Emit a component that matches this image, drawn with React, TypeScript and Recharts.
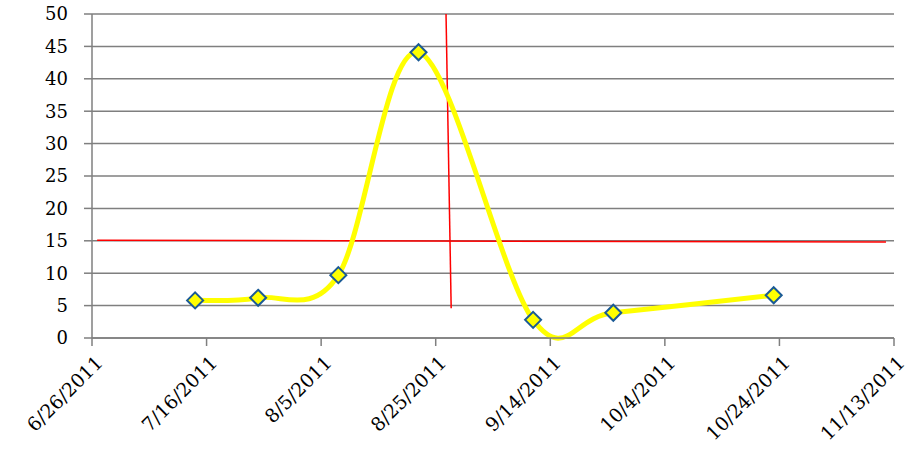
import React from 'react'
import { LineChart, Line, XAxis, YAxis, CartesianGrid, ReferenceLine } from 'recharts'

const dates = ['7/14/2011', '7/25/2011', '8/8/2011', '8/22/2011', '9/11/2011', '9/25/2011', '10/23/2011']
const values = [5.8, 6.2, 9.7, 44.1, 2.8, 3.9, 6.6]
const tickLabels = ['6/26/2011', '7/16/2011', '8/5/2011', '8/25/2011', '9/14/2011', '10/4/2011', '10/24/2011', '11/13/2011']
const yTicks = [0, 5, 10, 15, 20, 25, 30, 35, 40, 45, 50]

// red marker lines, x in days after the first tick
const hLine = [{ d: 0.9, y: 15.1 }, { d: 138.6, y: 14.8 }]
const vLine = [{ d: 61.8, y: 50 }, { d: 62.7, y: 4.6 }]

const dayNum = (s: string) => {
  const [m, d, y] = s.split('/').map(Number)
  return Date.UTC(y, m - 1, d) / 86400000
}

const start = dayNum(tickLabels[0])
const ticks = tickLabels.map(dayNum)
const data = dates.map((d, i) => ({ x: dayNum(d), value: values[i] }))
const labelFor: Record<number, string> = {}
tickLabels.forEach((l, i) => (labelFor[ticks[i]] = l))

// excel-like smoothing (catmull-rom)
const smooth = (context: any) => {
  let pts: number[][] = []
  return {
    areaStart() {},
    areaEnd() {},
    lineStart() {
      pts = []
    },
    lineEnd() {
      if (!pts.length) return
      context.moveTo(pts[0][0], pts[0][1])
      for (let i = 0; i < pts.length - 1; i++) {
        const p0 = pts[i - 1] || pts[i]
        const p1 = pts[i]
        const p2 = pts[i + 1]
        const p3 = pts[i + 2] || p2
        context.bezierCurveTo(
          p1[0] + (p2[0] - p0[0]) / 6,
          p1[1] + (p2[1] - p0[1]) / 6,
          p2[0] - (p3[0] - p1[0]) / 6,
          p2[1] - (p3[1] - p1[1]) / 6,
          p2[0],
          p2[1]
        )
      }
    },
    point(x: number, y: number) {
      pts.push([+x, +y])
    },
  }
}

const Diamond = (props: any) => {
  const { cx, cy } = props
  if (cx == null || cy == null) return null
  const r = 8
  return (
    <polygon
      points={`${cx},${cy - r} ${cx + r},${cy} ${cx},${cy + r} ${cx - r},${cy}`}
      fill="#ffff00"
      stroke="#1a5a96"
      strokeWidth={2}
    />
  )
}

const XTick = (props: any) => {
  const { x, y, payload } = props
  const ax = x + 7
  const ay = y + 9
  return (
    <text
      x={ax}
      y={ay}
      transform={`rotate(-45 ${ax} ${ay})`}
      textAnchor="end"
      dominantBaseline="central"
      fill="#000"
      fontSize={19}
    >
      {labelFor[payload.value]}
    </text>
  )
}

const font = '"DejaVu Serif", serif'

export default function App() {
  return (
    <div style={{ position: 'absolute', left: 0, top: 0, width: 914, height: 458, background: '#fff', fontFamily: font }}>
      <LineChart width={914} height={458} data={data} margin={{ top: 14, right: 20, bottom: 0, left: 0 }}>
        <CartesianGrid vertical={false} stroke="#7f7f7f" strokeWidth={1.5} />
        <XAxis
          type="number"
          dataKey="x"
          domain={[ticks[0], ticks[ticks.length - 1]]}
          ticks={ticks}
          height={120}
          stroke="#7f7f7f"
          strokeWidth={1.5}
          tickSize={8}
          tickMargin={4}
          interval={0}
          tick={<XTick />}
        />
        <YAxis
          domain={[0, 50]}
          ticks={yTicks}
          width={92}
          stroke="#7f7f7f"
          strokeWidth={1.5}
          tickSize={8}
          tickMargin={16}
          interval={0}
          tick={{ fill: '#000', fontSize: 18 }}
        />
        <ReferenceLine
          segment={hLine.map((p) => ({ x: start + p.d, y: p.y }))}
          stroke="#ff0000"
          strokeWidth={1.5}
          ifOverflow="visible"
        />
        <ReferenceLine
          segment={vLine.map((p) => ({ x: start + p.d, y: p.y }))}
          stroke="#ff0000"
          strokeWidth={1.5}
          ifOverflow="visible"
        />
        <Line
          type={smooth as any}
          dataKey="value"
          stroke="#ffff00"
          strokeWidth={5}
          dot={<Diamond />}
          activeDot={false}
          isAnimationActive={false}
        />
      </LineChart>
    </div>
  )
}
